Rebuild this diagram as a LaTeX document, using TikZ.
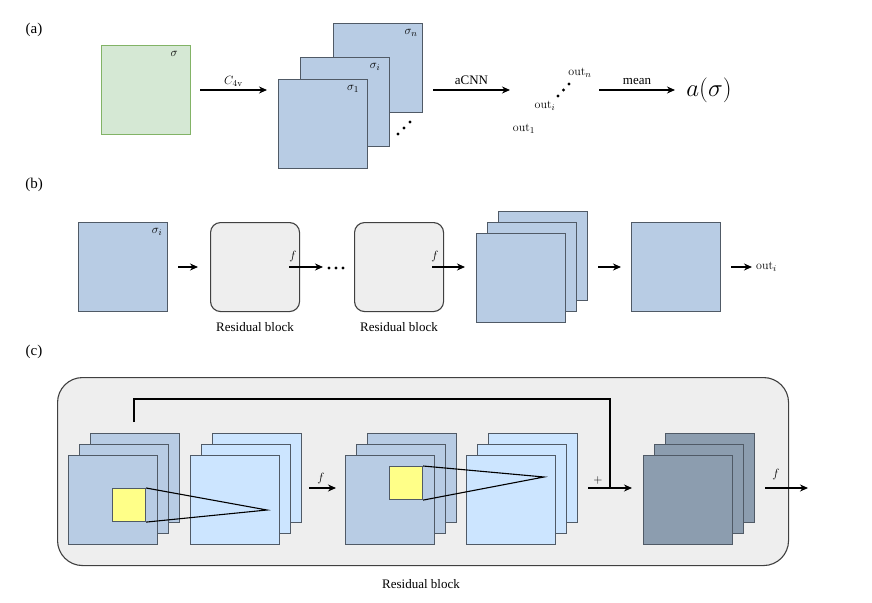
\documentclass[tikz,border=0pt]{standalone}
\usepackage[no-math]{fontspec}
\setmainfont{Liberation Serif}
\usepackage{amsmath,amssymb}
\usetikzlibrary{arrows.meta,calc}

\definecolor{greenF}{HTML}{D5E8D4}
\definecolor{greenD}{HTML}{82B366}
\definecolor{blueF}{HTML}{B8CCE4}
\definecolor{lightF}{HTML}{CCE5FF}
\definecolor{darkF}{HTML}{8C9DAF}
\definecolor{yellowF}{HTML}{FFFF88}
\definecolor{boxF}{HTML}{EEEEEE}
\definecolor{edgeG}{HTML}{505A66}

\tikzset{
    sq/.style={draw=edgeG, line width=1.1pt, minimum width=89pt, minimum height=89pt,
        inner sep=0pt, anchor=north west},
    small sq/.style={sq, minimum width=33pt, minimum height=33pt, fill=yellowF},
    resblock/.style={sq, draw=black!75, fill=boxF, rounded corners=10pt},
    arr/.style={-{Stealth[length=8pt,width=7pt]}, line width=1.1pt},
    tag/.style={font=\fontsize{13}{15}\selectfont, inner sep=0pt},
    caption/.style={font=\fontsize{13}{15}\selectfont},
    panel/.style={font=\fontsize{15}{17}\selectfont}
}

\begin{document}
\begin{tikzpicture}[x=1pt,y=-1pt]
\useasboundingbox (0,0) rectangle (872,602);

% (a)
\node[panel] (la) at (34,30) {(a)};
\node[sq, fill=greenF, draw=greenD] (sig) at (101,45) {};
\node[tag] at ([shift={(-17,9)}]sig.north east) {$\sigma$};

\coordinate (c1) at (200,90);
\coordinate (c2) at (267,90);
\draw[arr] (c1) -- node[above=3pt, tag] {$C_{4\mathrm{v}}$} (c2);

% symmetric copies
\node[sq, fill=blueF] (sn) at (333,23) {};
\node[sq, fill=blueF] (si) at (300,57) {};
\node[sq, fill=blueF] (s1) at (278,79) {};
\node[tag] at ([shift={(-12,10)}]sn.north east) {$\sigma_n$};
\node[tag] at ([shift={(-15,10)}]si.north east) {$\sigma_i$};
\node[tag] at ([shift={(-15,10)}]s1.north east) {$\sigma_1$};
\foreach \p in {(398,134),(404,128),(410,122)}
    \fill \p circle (1.6);

\coordinate (n1) at (433,90);
\coordinate (n2) at (510,90);
\draw[arr] (n1) -- node[above=1pt, caption] {aCNN} (n2);

\node[tag] (on) at (580,73) {$\mathrm{out}_n$};
\node[tag] (oi) at (545,106) {$\mathrm{out}_i$};
\node[tag] (o1) at (524,129) {$\mathrm{out}_1$};
\foreach \p in {(558,96),(563.5,90),(569,84)}
    \fill \p circle (1.6);

\coordinate (m1) at (599,90);
\coordinate (m2) at (675,90);
\draw[arr] (m1) -- node[above=1pt, caption] {mean} (m2);
\node[font=\fontsize{26}{30}\selectfont] (asig) at (709,90) {$a(\sigma)$};

% (b)
\node[panel] (lb) at (34,185) {(b)};
\node[sq, fill=blueF] (bin) at (78,222) {};
\node[tag] at ([shift={(-11,10)}]bin.north east) {$\sigma_i$};
\coordinate (b1) at (178,267);
\coordinate (b2) at (198,267);
\draw[arr] (b1) -- (b2);

\node[resblock] (rb1) at (210,222) {};
\node[resblock] (rb2) at (354,222) {};
\node[caption] at ([yshift=-15pt]rb1.south) {Residual block};
\node[caption] at ([yshift=-15pt]rb2.south) {Residual block};

\coordinate (b3) at (289,267);
\coordinate (b4) at (323,267);
\draw[arr] (b3) -- (b4);
\node[tag] at (293,256) {$f$};
\foreach \x in {329,336,343}
    \fill (\x,268) circle (1.6);

\coordinate (b5) at (432,267);
\coordinate (b6) at (465,267);
\draw[arr] (b5) -- (b6);
\node[tag] at (435,256) {$f$};

\node[sq, fill=blueF] (bk) at (498,211) {};
\node[sq, fill=blueF] (bm) at (487,222) {};
\node[sq, fill=blueF] (bf) at (476,233) {};

\coordinate (b7) at (598,267);
\coordinate (b8) at (621,267);
\draw[arr] (b7) -- (b8);
\node[sq, fill=blueF] (bout) at (631,222) {};
\coordinate (b9) at (731,267);
\coordinate (b10) at (752,267);
\draw[arr] (b9) -- (b10);
\node[tag, anchor=west] (oui) at (756,267) {$\mathrm{out}_i$};

% (c)
\node[panel] (lc) at (34,352) {(c)};
\node[draw=black!75, fill=boxF, line width=1.1pt, rounded corners=25pt,
    minimum width=731pt, minimum height=188pt, anchor=north west] (big) at (57,377) {};
\node[caption] at (421,584) {Residual block};

% skip connection
\coordinate (k0) at (134,422);
\coordinate (k1) at (134,399);
\coordinate (k2) at (610,399);
\coordinate (k3) at (610,488);
\draw[line width=1.1pt] (k0) -- (k1) -- (k2) -- (k3);

% first conv
\foreach \k/\x/\y in {3/90/433,2/79/444,1/68/455}
    \node[sq, fill=blueF] (pa\k) at (\x,\y) {};
\node[small sq] (ya) at (112,488) {};
\foreach \k/\x/\y in {3/212/433,2/201/444,1/190/455}
    \node[sq, fill=lightF] (qa\k) at (\x,\y) {};
\coordinate (ta) at (267,510);
\draw[line width=1.1pt] (ya.north east) -- (ta) -- (ya.south east);

\coordinate (f1) at (309,488);
\coordinate (f2) at (336,488);
\draw[arr] (f1) -- (f2);
\node[tag] at (321,478) {$f$};

% second conv
\foreach \k/\x/\y in {3/367/433,2/356/444,1/345/455}
    \node[sq, fill=blueF] (pb\k) at (\x,\y) {};
\node[small sq] (yb) at (389,466) {};
\foreach \k/\x/\y in {3/488/433,2/477/444,1/466/455}
    \node[sq, fill=lightF] (qb\k) at (\x,\y) {};
\coordinate (tb) at (544,477);
\draw[line width=1.1pt] (yb.north east) -- (tb) -- (yb.south east);

\coordinate (p1) at (588,488);
\coordinate (p2) at (632,488);
\draw[arr] (p1) -- (p2);
\node[tag] at (598,480) {$+$};

% sum
\foreach \k/\x/\y in {3/665/433,2/654/444,1/643/455}
    \node[sq, fill=darkF] (ra\k) at (\x,\y) {};
\coordinate (g1) at (765,488);
\coordinate (g2) at (808,488);
\draw[arr] (g1) -- (g2);
\node[tag] at (776,474) {$f$};

\end{tikzpicture}
\end{document}
